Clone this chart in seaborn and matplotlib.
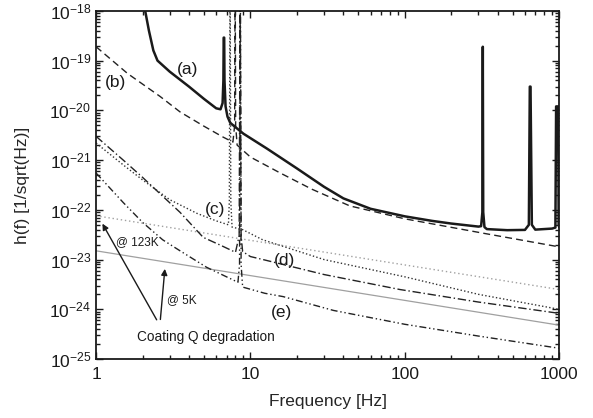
import numpy as np
import pandas as pd
import matplotlib
matplotlib.use("Agg")
import matplotlib.pyplot as plt
import seaborn as sns
from matplotlib.ticker import (LogLocator, FixedLocator, FixedFormatter, NullFormatter,
                               LogFormatterSciNotation)

# (a) total sensitivity, with resonance spikes
freq_a = [2.08, 2.2, 2.35, 2.5, 3.0, 4.0, 5.0, 6.0, 6.4, 6.6, 6.68, 6.71, 6.76, 6.79, 6.9,
          7.1, 7.4, 9.0, 12.8, 20, 30, 40, 60, 100, 150, 200, 300, 312, 318, 320, 322, 328,
          340, 460, 600, 636, 645, 652, 665, 700, 900, 945, 955, 985, 992, 1000]
h_a = [1e-18, 4e-19, 1.6e-19, 1.0e-19, 6e-20, 3e-20, 1.7e-20, 1.1e-20, 1.05e-20, 1.4e-20,
       4e-20, 2.9e-19, 2.9e-19, 4e-20, 1.2e-20,
       7.5e-21, 5.6e-21, 3.4e-21, 1.7e-21, 6.8e-22, 2.9e-22, 1.7e-22, 1.05e-22, 7.4e-23, 6e-23,
       5.3e-23, 4.6e-23, 4.7e-23, 9e-23, 1.9e-19, 9e-23, 4.5e-23,
       4.1e-23, 3.9e-23, 3.95e-23, 5e-23, 3e-20, 3e-20, 5e-23,
       4e-23, 4.2e-23, 4.4e-23, 1.2e-20, 1.2e-20, 5e-23, 4.5e-23]

# (b) dashed
freq_b = [1, 1.6, 2.6, 3.5, 5.0, 6.65, 7.7, 7.9, 7.96, 8.02, 8.2, 10, 15.6, 25, 44, 100,
          320, 1000]
h_b = [1.9e-19, 5.5e-20, 1.9e-20, 9.3e-21, 4.8e-21, 2.9e-21, 2.3e-21, 5e-21, 1e-17, 5e-21,
       2e-21, 1.15e-21, 5.5e-22, 2.6e-22, 1.2e-22, 6.6e-23, 3.4e-23, 1.8e-23]

# (c) dotted
freq_c = [1, 1.5, 2.0, 3.0, 4.5, 6.0, 7.2, 7.3, 7.38, 7.46, 7.6, 8.9, 12, 30, 100, 300, 1000]
h_c = [2.2e-21, 8e-22, 4e-22, 1.6e-22, 8.5e-23, 6e-23, 5e-23, 1.5e-22, 1e-17, 1.5e-22,
       4.5e-23, 4e-23, 2.5e-23, 1.0e-23, 4.5e-24, 2.0e-24, 1.0e-24]

# (d) dash-dot
freq_d = [1, 1.5, 2.0, 2.6, 3.5, 4.94, 6.5, 8.0, 8.45, 8.58, 8.7, 8.9, 10, 12.4, 30, 93,
          300, 1000]
h_d = [3e-21, 1e-21, 4.5e-22, 2.1e-22, 8.9e-23, 2.8e-23, 1.9e-23, 1.4e-23, 3e-23, 1e-17,
       3e-23, 1.45e-23, 1.15e-23, 9.8e-24, 5e-24, 2.5e-24, 1.4e-24, 8.3e-25]

# (e) dash-dot-dot
freq_e = [1, 1.5, 2.0, 2.7, 3.5, 5.2, 7.0, 8.3, 8.5, 8.6, 8.7, 8.9, 12.4, 16.3, 34.5, 100,
          300, 1000]
h_e = [5.5e-22, 1.4e-22, 5.6e-23, 2.5e-23, 1.5e-23, 7e-24, 4.5e-24, 3.5e-24, 8e-24, 1e-17,
       8e-24, 2.8e-24, 2.1e-24, 1.8e-24, 9.5e-25, 5e-25, 2.9e-25, 1.65e-25]

# coating Q degradation lines
freq_q = [1, 1000]
h_123k = [7.6e-23, 2.5e-24]
h_5k = [1.5e-23, 4.8e-25]

sns.set_style("ticks")
plt.rcParams['font.family'] = ['Liberation Sans', 'DejaVu Sans']

fig = plt.figure(figsize=(5.93, 4.18), dpi=100)
ax = fig.add_axes([0.162, 0.141, 0.781, 0.833])

def draw(x, y, **kw):
    df = pd.DataFrame({'f': x, 'h': y})
    sns.lineplot(data=df, x='f', y='h', ax=ax, sort=False, estimator=None, **kw)

draw(freq_q, h_123k, color='#a0a0a0', lw=1.0, linestyle=(0, (1, 2)))
draw(freq_q, h_5k, color='#a0a0a0', lw=0.9)
draw(freq_e, h_e, color='#222222', lw=1.0, linestyle=(0, (5, 2, 1, 2, 1, 2)))
draw(freq_d, h_d, color='#222222', lw=1.0, linestyle=(0, (6, 2, 1, 2)))
draw(freq_c, h_c, color='#333333', lw=1.0, linestyle=(0, (1, 1.6)))
draw(freq_b, h_b, color='#222222', lw=1.0, linestyle=(0, (5, 3)))
draw(freq_a, h_a, color='#1a1a1a', lw=1.8)

ax.set_xscale('log')
ax.set_yscale('log')
ax.set_xlim(1, 1000)
ax.set_ylim(1e-25, 1e-18)

ax.xaxis.set_major_locator(FixedLocator([1, 10, 100, 1000]))
ax.xaxis.set_major_formatter(FixedFormatter(['1', '10', '100', '1000']))
ax.xaxis.set_minor_locator(LogLocator(base=10, subs=np.arange(2, 10), numticks=20))
ax.xaxis.set_minor_formatter(NullFormatter())
ax.yaxis.set_major_locator(FixedLocator([10.0 ** k for k in range(-25, -17)]))
ax.yaxis.set_major_formatter(LogFormatterSciNotation())
ax.yaxis.set_minor_locator(LogLocator(base=10, subs=np.arange(2, 10), numticks=30))
ax.yaxis.set_minor_formatter(NullFormatter())

ax.tick_params(which='both', direction='in', top=True, right=True, width=1.0, colors='#1a1a1a')
ax.tick_params(which='major', length=5, labelsize=12.5)
ax.tick_params(axis='x', which='major', pad=6)
ax.tick_params(which='minor', length=3)
for s in ax.spines.values():
    s.set_linewidth(1.3)
    s.set_color('#1a1a1a')

ax.set_xlabel('Frequency [Hz]', fontsize=12.5, labelpad=8)
ax.set_ylabel('h(f) [1/sqrt(Hz)]', fontsize=12.5, labelpad=14)

for txt, x, y in [('(a)', 3.9, 6.5e-20), ('(b)', 1.33, 3.7e-20), ('(c)', 5.9, 1.0e-22),
                  ('(d)', 16.6, 9.5e-24), ('(e)', 16.0, 8.5e-25)]:
    ax.text(x, y, txt, fontsize=12.5, ha='center', va='center', color='#1a1a1a')

ax.text(1.35, 2.2e-23, '@ 123K', fontsize=8.5, va='center', color='#1a1a1a')
ax.text(2.9, 1.5e-24, '@ 5K', fontsize=8.5, va='center', color='#1a1a1a')
ax.text(1.845, 2.75e-25, 'Coating Q degradation', fontsize=9.8, va='center', color='#1a1a1a')
arrow = dict(arrowstyle='-|>', color='#1a1a1a', lw=1.0, mutation_scale=9)
ax.annotate('', xy=(1.077, 5.9e-23), xytext=(2.52, 5.5e-25), arrowprops=arrow)
ax.annotate('', xy=(2.8, 7.4e-24), xytext=(2.6, 5.5e-25), arrowprops=arrow)

fig.savefig('out.png', dpi=100)
